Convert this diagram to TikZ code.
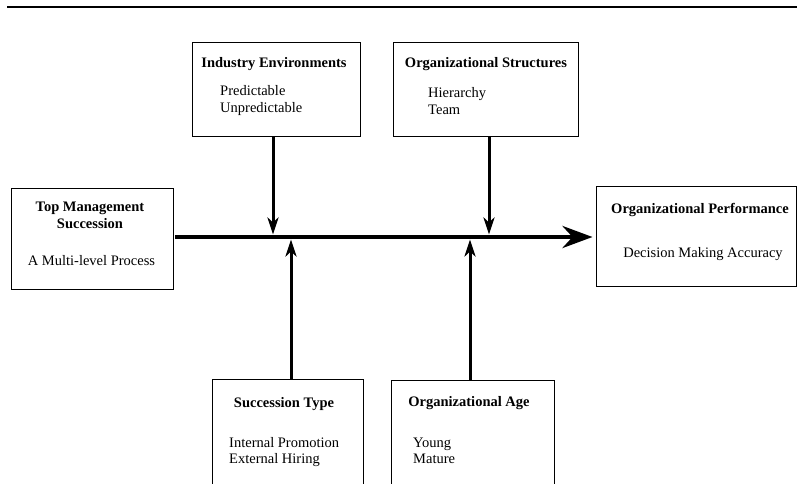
\documentclass[tikz,border=0pt]{standalone}
\usepackage{fontspec}
\setmainfont{Liberation Serif}
\usetikzlibrary{arrows.meta}
\tikzset{
  box/.style={draw, line width=1pt, inner sep=0pt},
  ttl/.style={anchor=base, inner sep=0pt, font=\fontsize{14.5}{17}\selectfont\bfseries},
  txt/.style={anchor=base, inner sep=0pt, font=\fontsize{14.5}{17}\selectfont},
  itm/.style={anchor=base west, inner sep=0pt, font=\fontsize{14.5}{17}\selectfont},
  varr/.style={line width=3pt, -{Stealth[length=17pt,width=11pt,inset=5pt]}},
  marr/.style={line width=4.5pt, -{Stealth[length=30pt,width=22pt,inset=10pt]}}
}
\begin{document}
\begin{tikzpicture}[x=1pt,y=-1pt]
\useasboundingbox (0,0) rectangle (797,484);
\clip (0,0) rectangle (797,484);
\draw[line width=2pt] (7,7) -- (797,7);
% boxes
\node[box, minimum width=162pt, minimum height=101pt] (tms) at (92,238.5) {};
\node[box, minimum width=168pt, minimum height=93pt] (ind) at (276,89.5) {};
\node[box, minimum width=185pt, minimum height=93pt] (org) at (485.5,89.5) {};
\node[box, minimum width=200pt, minimum height=100pt] (perf) at (696,236) {};
\node[box, minimum width=151pt, minimum height=121pt] (suc) at (287.5,439.5) {};
\node[box, minimum width=163pt, minimum height=120pt] (age) at (472.5,440) {};
% texts
\node[ttl] (t1a) at (90,211.5) {Top Management};
\node[ttl] (t1b) at (90,228.5) {Succession};
\node[txt] (t1c) at (91.5,265.5) {A Multi-level Process};
\node[ttl] (t2) at (274,67.5) {Industry Environments};
\node[itm] (t2a) at (220,95.5) {Predictable};
\node[itm] (t2b) at (220,112.5) {Unpredictable};
\node[ttl] (t3) at (486,67.5) {Organizational Structures};
\node[itm] (t3a) at (428,97.5) {Hierarchy};
\node[itm] (t3b) at (428,114.5) {Team};
\node[ttl] (t4) at (700,213.5) {Organizational Performance};
\node[txt] (t4a) at (703,257.5) {Decision Making Accuracy};
\node[ttl] (t5) at (284,407.5) {Succession Type};
\node[itm] (t5a) at (229,447.5) {Internal Promotion};
\node[itm] (t5b) at (229,463.5) {External Hiring};
\node[ttl] (t6) at (469,406.5) {Organizational Age};
\node[itm] (t6a) at (413,447.5) {Young};
\node[itm] (t6b) at (413,463.5) {Mature};
% connectors
\coordinate (m0) at (175,237);
\coordinate (j1) at (273,234.5);
\coordinate (j2) at (489,234.5);
\coordinate (k1) at (291,239.5);
\coordinate (k2) at (470,239.5);
\draw[marr] (m0) -- ([xshift=-3pt]perf.west |- m0);
\draw[varr] (ind.south -| j1) -- (j1);
\draw[varr] (org.south -| j2) -- (j2);
\draw[varr] (suc.north -| k1) -- (k1);
\draw[varr] (age.north -| k2) -- (k2);
\end{tikzpicture}
\end{document}
